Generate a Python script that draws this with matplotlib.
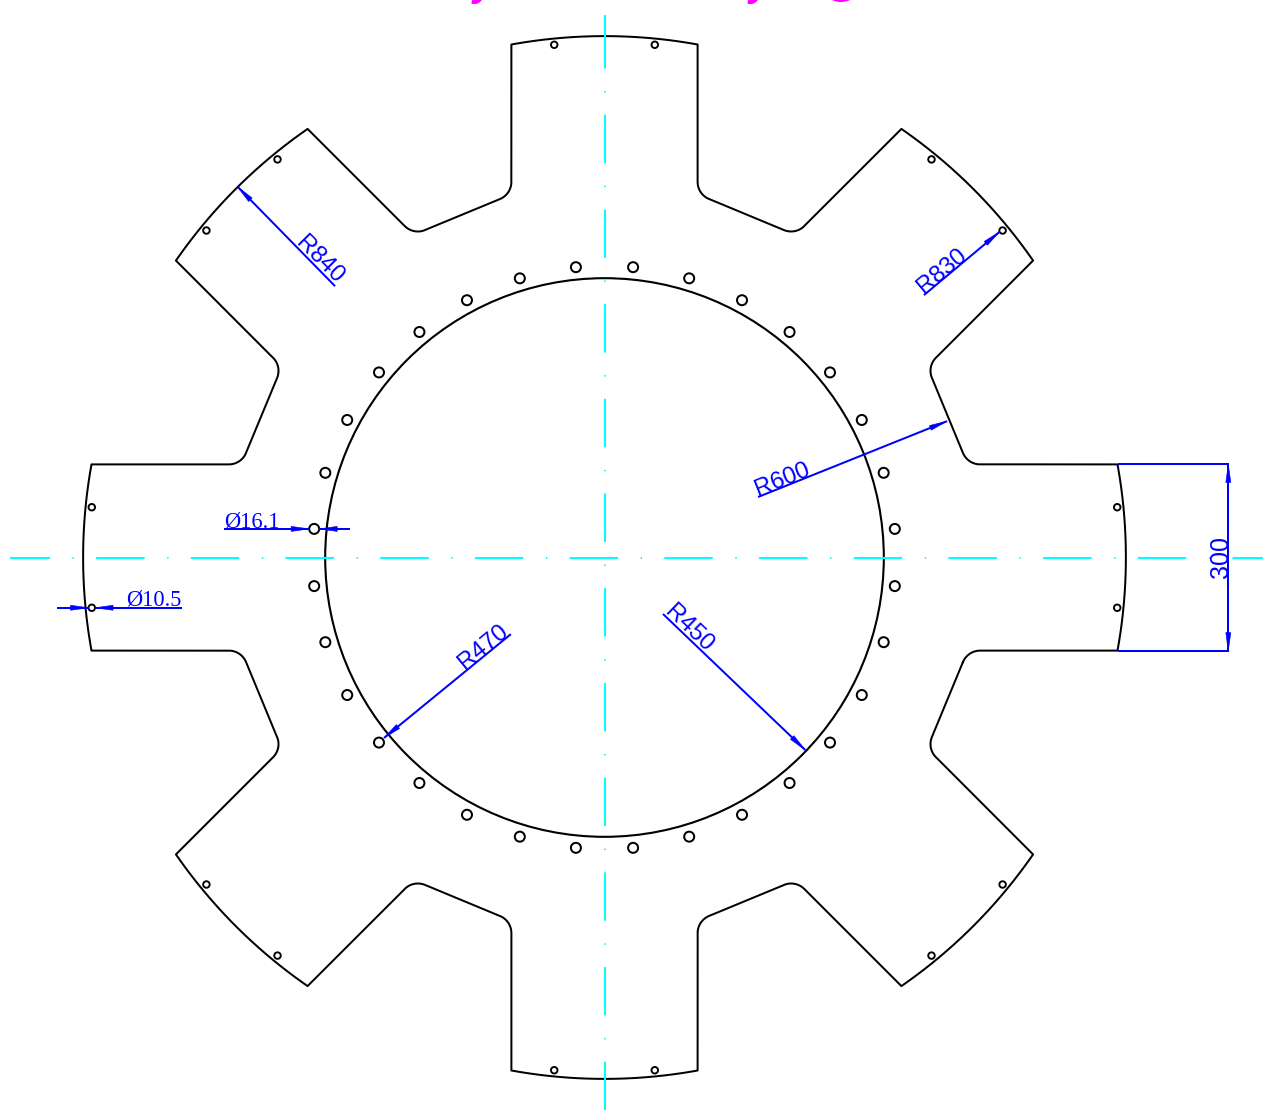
import numpy as np
import matplotlib
matplotlib.use("Agg")
import matplotlib.pyplot as plt
from matplotlib.patches import Circle, Polygon

plt.rcParams['lines.scale_dashes'] = False

# drawing values (model units)
OUTER_R = 840
HOLE_R_SMALL = 830
VALLEY_R = 598
INNER_R = 450
HOLE_R_LARGE = 470
TOOTH_WIDTH = 300
D_SMALL = 10.5
D_LARGE = 16.1
FILLET = 30
TOOTH_ANGLES = [0, 45, 90, 135, 180, 225, 270, 315]
SMALL_HOLE_OFFSETS = [-5.6, 5.6]
LARGE_HOLE_ANGLES = [5.625, 16.875, 28.125, 39.375, 50.625, 61.875, 73.125, 84.375,
                     95.625, 106.875, 118.125, 129.375, 140.625, 151.875, 163.125, 174.375,
                     185.625, 196.875, 208.125, 219.375, 230.625, 241.875, 253.125, 264.375,
                     275.625, 286.875, 298.125, 309.375, 320.625, 331.875, 343.125, 354.375]

# radial leaders: label, tip angle, tip r, tail angle, tail r, text rotation
LEADERS = [("R840", 134.7, 840, 134.8, 616, -45),
           ("R830", 39.5, 825, 39.4, 666, 40),
           ("R600", 21.7, 594, 21.5, 266, 22),
           ("R470", 219.3, 459, 219.3, 195, 39.5),
           ("R450", -43.8, 448, -44.0, 131, -44)]

W, H = 1263, 1111
CX, CY = 604.5, 557.5
S = 0.6207
BLACK, BLUE, CYAN = "#000000", "#0000ff", "#00ffff"

fig = plt.figure(figsize=(W / 72, H / 72), dpi=72)
ax = fig.add_axes([0, 0, 1, 1])
ax.set_xlim(-CX / S, (W - CX) / S)
ax.set_ylim((CY - H) / S, CY / S)
ax.axis("off")


def rot(p, deg):
    a = np.radians(deg)
    c, s = np.cos(a), np.sin(a)
    return np.array([c * p[0] - s * p[1], s * p[0] + c * p[1]])


def polar(r, deg):
    return r * np.array([np.cos(np.radians(deg)), np.sin(np.radians(deg))])


def fillet(prev, p, nxt, r, n=14):
    u = (prev - p) / np.linalg.norm(prev - p)
    v = (nxt - p) / np.linalg.norm(nxt - p)
    th = np.arccos(np.clip(u @ v, -1, 1))
    t = r / np.tan(th / 2)
    b = (u + v) / np.linalg.norm(u + v)
    c = p + b * r / np.sin(th / 2)
    s, e = p + u * t - c, p + v * t - c
    a0 = np.arctan2(s[1], s[0])
    a1 = np.arctan2(e[1], e[0])
    d = (a1 - a0 + np.pi) % (2 * np.pi) - np.pi
    return [c + r * np.array([np.cos(a0 + d * i / n), np.sin(a0 + d * i / n)]) for i in range(n + 1)]


hw = TOOTH_WIDTH / 2
sa, ca = np.sin(np.radians(22.5)), np.cos(np.radians(22.5))
x1 = (VALLEY_R - hw * sa) / ca
xo = np.sqrt(OUTER_R ** 2 - hw ** 2)
half = np.degrees(np.arcsin(hw / OUTER_R))
nt = len(TOOTH_ANGLES)
pts = []
for k, a in enumerate(TOOTH_ANGLES):
    A = rot((x1, -hw), a)
    B = rot((xo, -hw), a)
    C = rot((xo, hw), a)
    D = rot((x1, hw), a)
    prevD = rot((x1, hw), TOOTH_ANGLES[k - 1])
    nextA = rot((x1, -hw), TOOTH_ANGLES[(k + 1) % nt])
    pts += fillet(prevD, A, B, FILLET)
    for t in np.linspace(-half, half, 40):
        pts.append(polar(OUTER_R, a + t))
    pts += fillet(C, D, nextA, FILLET)
pts = np.array(pts + [pts[0]])
ax.plot(pts[:, 0], pts[:, 1], color=BLACK, lw=2.0, solid_joinstyle="round", zorder=3)

ax.add_patch(Circle((0, 0), INNER_R, fill=False, ec=BLACK, lw=2.1, zorder=3))
for a in LARGE_HOLE_ANGLES:
    ax.add_patch(Circle(polar(HOLE_R_LARGE, a), D_LARGE / 2, fill=False, ec=BLACK, lw=2.0, zorder=3))
for a in TOOTH_ANGLES:
    for o in SMALL_HOLE_OFFSETS:
        ax.add_patch(Circle(polar(HOLE_R_SMALL, a + o), D_SMALL / 2, fill=False, ec=BLACK, lw=1.9, zorder=3))

# centre lines
pattern = (48.5, 22.6, 1.3, 22.3)
ax.plot([(10 - CX) / S, (1263 - CX) / S], [0, 0], color=CYAN, lw=2.0, zorder=4,
        linestyle=(8.6, pattern), dash_capstyle="butt")
ax.plot([0, 0], [(CY - 20.4) / S, (CY - 1110) / S], color=CYAN, lw=2.0, zorder=4,
        linestyle=(0, pattern), dash_capstyle="butt")
ax.plot([0, 0], [(CY - 14.5) / S, (CY - 21) / S], color=CYAN, lw=2.0, zorder=4, solid_capstyle="butt")


def arrow(tip, tail, length=29, width=8):
    tip, tail = np.array(tip, float), np.array(tail, float)
    d = (tail - tip) / np.linalg.norm(tail - tip)
    n = np.array([-d[1], d[0]])
    base = tip + d * length
    ax.add_patch(Polygon([tip, base + n * width / 2, base - n * width / 2], closed=True,
                         fc=BLUE, ec=BLUE, lw=0.6, zorder=5))


def dim_line(p, q):
    ax.plot([p[0], q[0]], [p[1], q[1]], color=BLUE, lw=2.0, zorder=5, solid_capstyle="butt")


SANS = "Liberation Sans"
SERIF = "Liberation Serif"
for label, ta, tr, la, lr, trot in LEADERS:
    tip, tail = polar(tr, ta), polar(lr, la)
    dim_line(tip, tail)
    arrow(tip, tail)
    u = (tip - tail) / np.linalg.norm(tip - tail)
    tdir = polar(1, trot)
    nrm = np.array([-tdir[1], tdir[0]])
    pos = tail + u * 47 + nrm * 2
    ax.text(pos[0], pos[1], label, color=BLUE, fontsize=24, family=SANS, rotation=trot,
            rotation_mode="anchor", ha="center", va="baseline", zorder=6)

# 300 dimension
xh = OUTER_R * np.cos(np.radians(half))
xd = 1005
dim_line((xh, hw), (xd + 1, hw))
dim_line((xh, -hw), (xd + 1, -hw))
dim_line((xd, hw), (xd, -hw))
arrow((xd, hw), (xd, 0))
arrow((xd, -hw), (xd, 0))
ax.text(xd - 1, 0, str(TOOTH_WIDTH), color=BLUE, fontsize=25, family=SANS, rotation=90,
        rotation_mode="anchor", ha="center", va="baseline", zorder=6)

# diameter dimensions
yl = polar(HOLE_R_LARGE, LARGE_HOLE_ANGLES[15])[1]
xl = polar(HOLE_R_LARGE, LARGE_HOLE_ANGLES[15])[0]
dim_line((xl - D_LARGE / 2, yl), (-613, yl))
arrow((xl - D_LARGE / 2, yl), (-613, yl))
dim_line((xl + D_LARGE / 2, yl), (-410, yl))
arrow((xl + D_LARGE / 2, yl), (-410, yl))
ax.text(-613, yl + 3, "Ø16.1", color=BLUE, fontsize=22.5, family=SERIF, ha="left", va="baseline", zorder=6)

xs, ys = polar(HOLE_R_SMALL, 180 + SMALL_HOLE_OFFSETS[1])
dim_line((xs + D_SMALL / 2, ys), (-680, ys))
arrow((xs + D_SMALL / 2, ys), (-680, ys))
dim_line((xs - D_SMALL / 2, ys), (-882, ys))
arrow((xs - D_SMALL / 2, ys), (-882, ys))
ax.text(-770, ys + 3, "Ø10.5", color=BLUE, fontsize=22.5, family=SERIF, ha="left", va="baseline", zorder=6)

# magenta title, almost entirely cut off by the top edge
for x, t in [(484, "y"), (760, "y"), (841, "@")]:
    ax.text((x - CX) / S, (CY + 4.5) / S, t, color="#ff00ff", fontsize=40, family=SANS,
            fontweight="bold", style="italic", ha="center", va="baseline", zorder=6)

fig.savefig("out.png", dpi=72)
